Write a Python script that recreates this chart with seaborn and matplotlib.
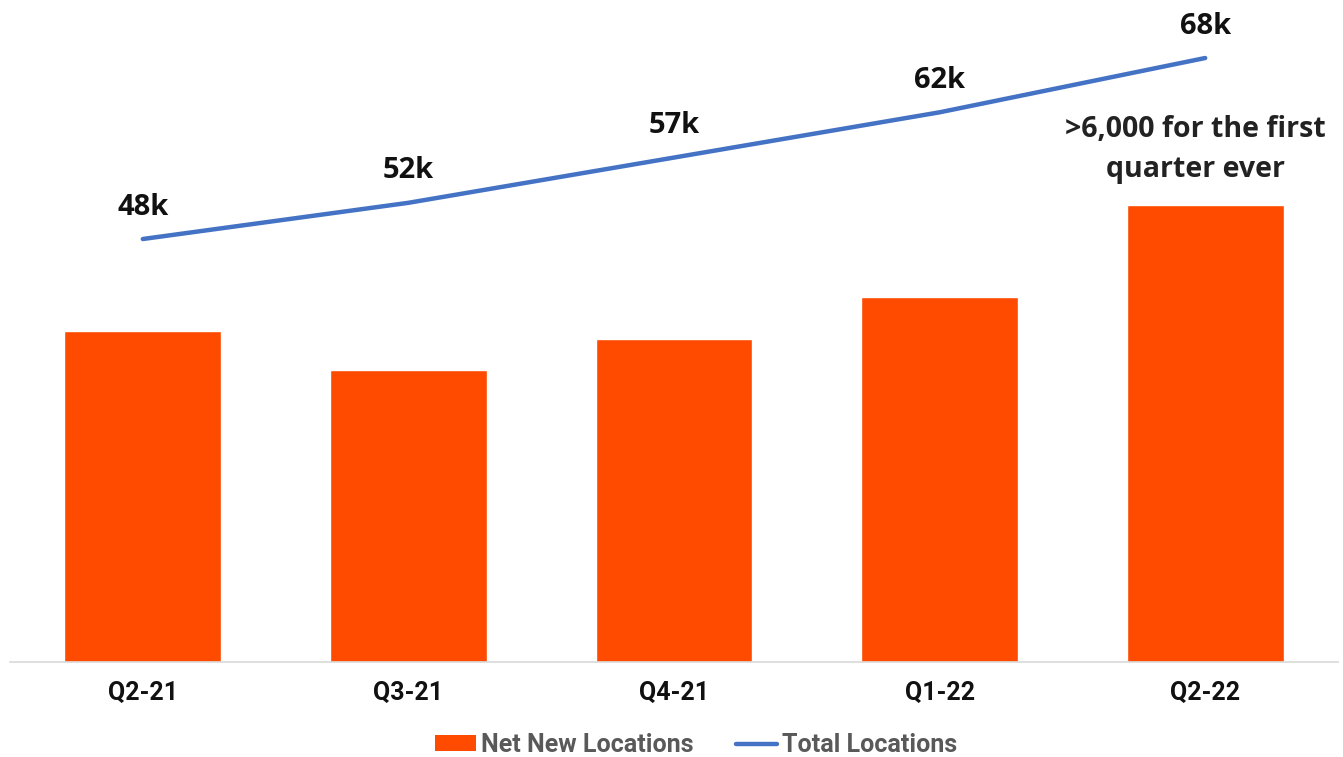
import numpy as np
import pandas as pd
import matplotlib
matplotlib.use("Agg")
import matplotlib.pyplot as plt
import seaborn as sns
from matplotlib.patches import Patch
from matplotlib.lines import Line2D

# ---- data ----
quarters = ["Q2-21", "Q3-21", "Q4-21", "Q1-22", "Q2-22"]
net_new = [4710, 4150, 4590, 5190, 6500]        # bars (estimated)
total_k = [48, 52, 57, 62, 68]                  # line, thousands
total_labels = ["48k", "52k", "57k", "62k", "68k"]
note_lines = [">6,000 for the first", "quarter ever"]

BAR_COLOR = "#FF4B00"
LINE_COLOR = "#4472C4"

sns.set_theme(style="white")
plt.rcParams["font.family"] = ["Roboto", "DejaVu Sans"]

df = pd.DataFrame({"Quarter": quarters, "Net": net_new, "Total": total_k})

fig = plt.figure(figsize=(13.43, 7.57), dpi=100)
ax = fig.add_axes([10 / 1343, 95 / 757, 1328 / 1343, 662 / 757])

sns.barplot(data=df, x="Quarter", y="Net", color=BAR_COLOR, width=0.59,
            saturation=1, ax=ax)
ax.set_ylim(0, 9416)
ax.set_xlim(-0.5, 4.5)

ax2 = ax.twinx()
sns.lineplot(x=np.arange(len(quarters)), y=df["Total"], color=LINE_COLOR,
             linewidth=3.2, ax=ax2)
ax2.set_ylim(1.26, 74.41)

for i, (v, lab) in enumerate(zip(total_k, total_labels)):
    ax2.annotate(lab, (i, v), xytext=(0, 23), textcoords="offset points",
                 ha="center", va="center", fontsize=21, fontweight="bold",
                 family=["Open Sans", "DejaVu Sans"], color="#111111")

ax.text(3.962, 7568, note_lines[0], ha="center", va="center", fontsize=20.5,
        fontweight="bold", family=["Open Sans", "DejaVu Sans"], color="#222222")
ax.text(3.962, 6999, note_lines[1], ha="center", va="center", fontsize=20.5,
        fontweight="bold", family=["Open Sans", "DejaVu Sans"], color="#222222")

for a in (ax, ax2):
    for s in ("top", "left", "right"):
        a.spines[s].set_visible(False)
    a.set_yticks([])
    a.set_ylabel("")
ax2.spines["bottom"].set_visible(False)
ax.spines["bottom"].set_color("#d9d9d9")
ax.spines["bottom"].set_linewidth(1.2)
ax.set_xlabel("")
ax.tick_params(axis="x", length=0, pad=14, labelsize=18, colors="#111111")
for t in ax.get_xticklabels():
    t.set_fontweight("bold")

handles = [Patch(facecolor=BAR_COLOR, edgecolor="none"),
           Line2D([], [], color=LINE_COLOR, linewidth=3.2)]
fig.legend(handles, ["Net New Locations", "Total Locations"], loc="center",
           bbox_to_anchor=(696 / 1343, 1 - 745 / 757), ncol=2, frameon=False,
           prop={"family": "Roboto", "weight": "bold", "size": 18},
           labelcolor="#595959", handlelength=1.65, handleheight=0.6,
           handletextpad=0.2, columnspacing=1.7)

fig.savefig("out.png", dpi=100)
